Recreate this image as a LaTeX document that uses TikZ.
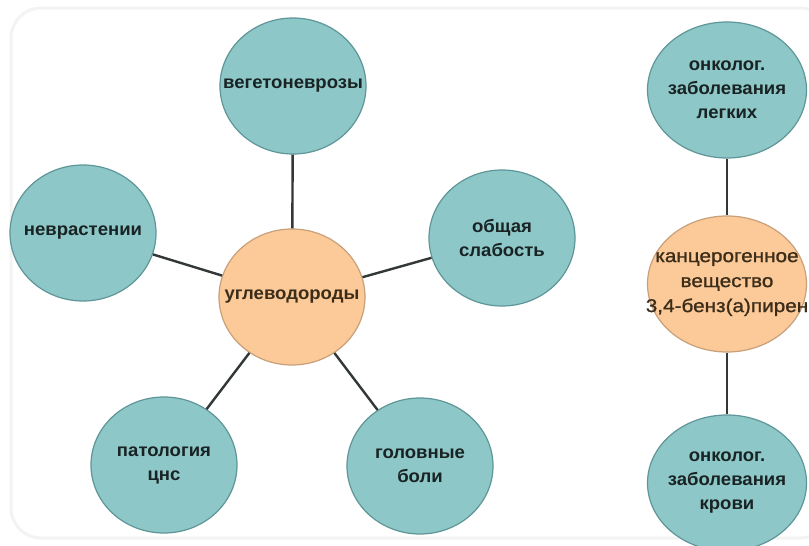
\documentclass[tikz,border=0pt]{standalone}
\usepackage{fontspec}
\setmainfont{Liberation Sans}
\newfontfamily\lblfont[FakeStretch=1.03]{Liberation Sans}
\newfontfamily\widefont[FakeStretch=1.12,FakeBold=1.2]{Liberation Sans}
\usetikzlibrary{shapes.geometric}
\definecolor{tealfill}{RGB}{142,199,200}
\definecolor{tealdraw}{RGB}{95,150,152}
\definecolor{orfill}{RGB}{252,201,152}
\definecolor{ordraw}{RGB}{200,160,122}
\definecolor{linkcol}{RGB}{50,55,55}
\definecolor{txtcol}{RGB}{25,35,35}
\definecolor{hubtxt}{RGB}{60,45,25}
\definecolor{framecol}{RGB}{243,243,243}
\begin{document}
\begin{tikzpicture}[x=1pt,y=-1pt,
  bubble/.style={ellipse, draw=tealdraw, fill=tealfill, line width=1.2pt,
    minimum width=146pt, minimum height=136pt, inner sep=0pt},
  hub/.style={bubble, draw=ordraw, fill=orfill},
  widebub/.style={minimum width=159pt},
  lbl/.style={align=center, inner sep=0pt, text=txtcol,
    font=\lblfont\bfseries\fontsize{18}{24}\selectfont},
  hublbl/.style={lbl, text=hubtxt},
  widelbl/.style={hublbl, font=\widefont\fontsize{18.5}{25}\selectfont},
  link/.style={draw=linkcol, line width=2.4pt}]
\useasboundingbox (0,0) rectangle (809,546);
\clip (0,0) rectangle (809,546);
\fill[white] (0,0) rectangle (809,546);
\draw[framecol, line width=3pt, rounded corners=30pt] (11,8) rectangle (830,538);

\node[bubble] (veg) at (293,86) {};
\node[bubble] (nevr) at (83,233) {};
\node[bubble] (slab) at (502,238) {};
\node[hub] (ugl) at (292,297) {};
\node[bubble] (pat) at (164,465) {};
\node[bubble] (gol) at (420,466) {};
\node[bubble,widebub] (onk1) at (727,90) {};
\node[hub,widebub] (kanc) at (727,284) {};
\node[bubble,widebub] (onk2) at (727,483) {};

\node[lbl] (vegt) at (veg) {вегетоневрозы};
\node[lbl] (nevrt) at (nevr) {неврастении};
\node[lbl] (slabt) at (slab) {общая\\слабость};
\node[hublbl] (uglt) at (ugl) {углеводороды};
\node[lbl] (patt) at (pat) {патология\\цнс};
\node[lbl] (golt) at (gol) {головные\\боли};
\node[lbl] (onk1t) at (onk1) {онколог.\\заболевания\\легких};
\node[widelbl] (kanct) at (kanc) {канцерогенное\\вещество\\3,4-бенз(а)пирен};
\node[lbl] (onk2t) at (onk2) {онколог.\\заболевания\\крови};

\draw[link] (ugl) -- (veg);
\draw[link] (ugl) -- (nevr);
\draw[link] (ugl) -- (slab);
\draw[link] (ugl) -- (pat);
\draw[link] (ugl) -- (gol);
\draw[link] (kanc) -- (onk1);
\draw[link] (kanc) -- (onk2);
\end{tikzpicture}
\end{document}
